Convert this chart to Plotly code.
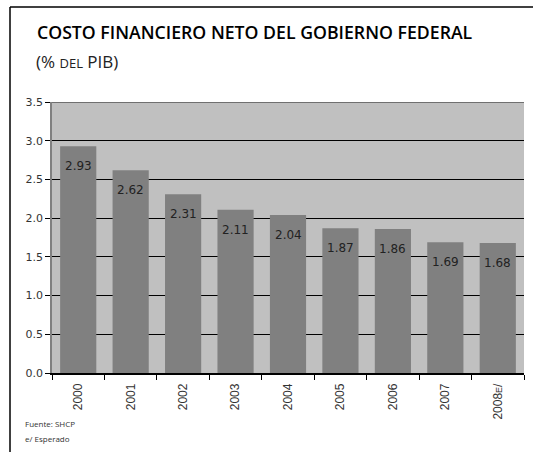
import plotly.graph_objects as go

years = ["2000", "2001", "2002", "2003", "2004", "2005", "2006", "2007", "2008e/"]
tick_labels = ["2000", "2001", "2002", "2003", "2004", "2005", "2006", "2007",
               "2008<span style='font-size:9px'>E</span>/"]
values = [2.93, 2.62, 2.31, 2.11, 2.04, 1.87, 1.86, 1.69, 1.68]
value_labels = ["2.93", "2.62", "2.31", "2.11", "2.04", "1.87", "1.86", "1.69", "1.68"]
y_ticks = [0.0, 0.5, 1.0, 1.5, 2.0, 2.5, 3.0, 3.5]

W, H = 533, 452
L, R, T, B = 52, 9, 102, 79
PW, PH = W - L - R, H - T - B

def px(x):
    return (x - L) / PW

def py(y):
    return (H - B - y) / PH

fig = go.Figure()
fig.add_trace(go.Bar(
    x=years, y=values, marker=dict(color="#808080", line=dict(width=0)),
    hoverinfo="skip",
))

for i, (v, lab) in enumerate(zip(values, value_labels)):
    fig.add_annotation(x=i, y=v, xref="x", yref="y", text=lab, showarrow=False,
                       yanchor="middle", yshift=-20,
                       font=dict(family="DejaVu Sans", size=12, color="#222222"))

# title & subtitle
fig.add_annotation(x=px(35), y=py(32), xref="paper", yref="paper", xanchor="left", yanchor="middle",
                   text="COSTO FINANCIERO NETO DEL GOBIERNO FEDERAL", showarrow=False,
                   font=dict(family="Open Sans", size=17.7, color="#000000", weight=600))
fig.add_annotation(x=px(34), y=py(61), xref="paper", yref="paper", xanchor="left", yanchor="middle",
                   text="(% <span style='font-size:13px'>DEL</span> PIB)", showarrow=False,
                   font=dict(family="Open Sans", size=17, color="#222222"))
# footnotes
fig.add_annotation(x=px(23), y=py(424), xref="paper", yref="paper", xanchor="left", yanchor="middle",
                   text="Fuente: SHCP", showarrow=False,
                   font=dict(family="Open Sans", size=8, color="#333333"))
fig.add_annotation(x=px(23), y=py(438), xref="paper", yref="paper", xanchor="left", yanchor="middle",
                   text="e/ Esperado", showarrow=False,
                   font=dict(family="Open Sans", size=8, color="#333333"))

# frame lines
fig.add_shape(type="line", xref="paper", yref="paper", x0=px(10), x1=px(W), y0=py(7), y1=py(7),
              line=dict(color="#000000", width=1.5))
fig.add_shape(type="line", xref="paper", yref="paper", x0=px(10), x1=px(10), y0=py(7), y1=py(H),
              line=dict(color="#000000", width=1.5))
# top edge of plot area
fig.add_shape(type="line", xref="paper", yref="y", x0=0, x1=1, y0=3.5, y1=3.5,
              line=dict(color="#707070", width=2), layer="above")

fig.update_layout(
    width=W, height=H,
    margin=dict(l=L, r=R, t=T, b=B, pad=0),
    paper_bgcolor="#ffffff", plot_bgcolor="#c0c0c0",
    bargap=0.31, showlegend=False,
)
fig.update_xaxes(
    type="category", range=[-0.5, len(years) - 0.5],
    tickvals=years, ticktext=tick_labels, tickangle=-90,
    ticks="outside", tickson="boundaries", ticklen=5, tickcolor="#000000",
    showline=True, linecolor="#000000", linewidth=1.5,
    tickfont=dict(family="Liberation Sans", size=12, color="#333333"),
    ticklabelstandoff=4,
    showgrid=False,
)
fig.update_yaxes(
    range=[0, 3.5], tickvals=y_ticks, tickformat=".1f",
    ticks="outside", ticklen=5, tickcolor="#000000",
    showline=True, linecolor="#808080", linewidth=1.5,
    gridcolor="#000000", gridwidth=1.2, zeroline=False,
    tickfont=dict(family="DejaVu Sans", size=11, color="#333333"),
)

fig.write_html("out.html")
